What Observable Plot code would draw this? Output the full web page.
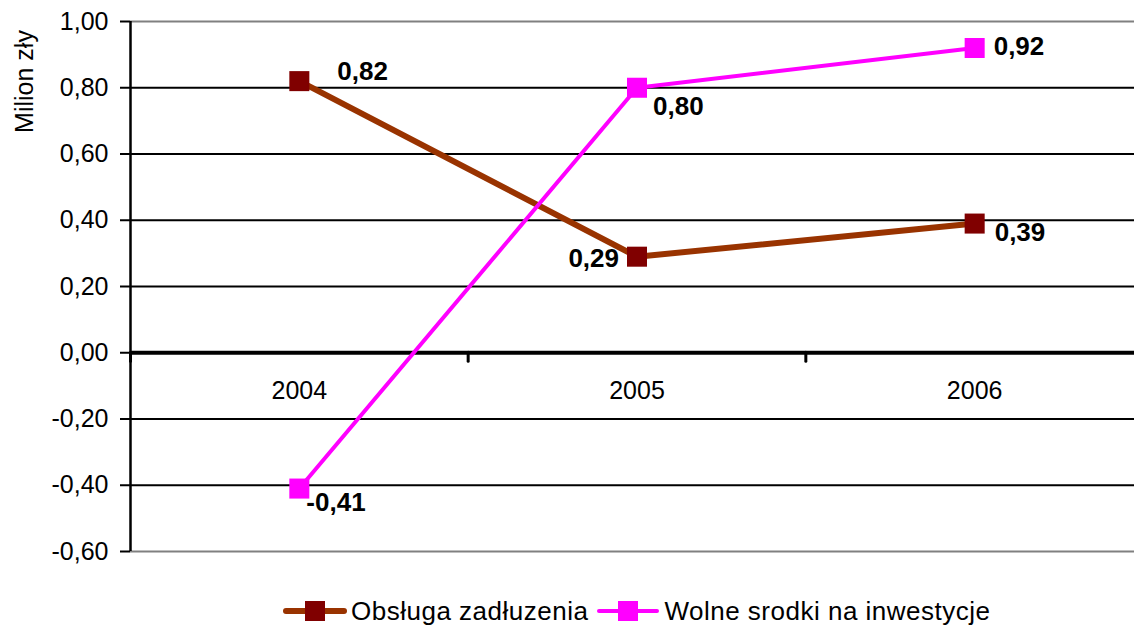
<!DOCTYPE html>
<html>
<head>
<meta charset="utf-8">
<script src="https://cdn.jsdelivr.net/npm/d3@7"></script>
<script src="https://cdn.jsdelivr.net/npm/@observablehq/plot@0.6"></script>
<style>
  html, body { margin: 0; padding: 0; background: #fff; }
  body { width: 1134px; height: 632px; overflow: hidden; font-family: Arial, "Liberation Sans", sans-serif; }
  #legend { display: flex; align-items: center; height: 42px; margin-left: 283px; font-size: 26px; letter-spacing: 0.5px; color: #000; }
  .item { display: flex; align-items: center; margin-right: 8px; white-space: nowrap; }
  .item svg { margin-right: 4px; }
</style>
</head>
<body>
<div id="chart"></div>
<div id="legend"></div>
<script>
// ---- data ----
const years = ["2004", "2005", "2006"];
const debtService = [0.82, 0.29, 0.39];          // Obsługa zadłuzenia
const freeFunds = [-0.41, 0.80, 0.92];           // Wolne srodki na inwestycje
const yTicks = [-0.6, -0.4, -0.2, 0, 0.2, 0.4, 0.6, 0.8, 1.0];
const seriesNames = ["Obsługa zadłuzenia", "Wolne srodki na inwestycje"];
const yTitle = "Milion zły";

// ---- styles ----
const brownLine = "#993300", brownMarker = "#800000", magenta = "#FF00FF";
const fmt = v => v.toFixed(2).replace(".", ",");

const rows = years.map((year, i) => ({year, i, debt: debtService[i], free: freeFunds[i]}));
const xPos = d => d.i + 0.5;

function valueLabel(key, idx, dx, dy, anchor) {
  return Plot.text(rows.filter(d => d.i === idx), {
    x: xPos, y: key, text: d => fmt(d[key]),
    dx, dy, textAnchor: anchor, fontWeight: "bold", fontSize: 26, fill: "#000"
  });
}

const chart = Plot.plot({
  width: 1134,
  height: 590,
  marginLeft: 130,
  marginRight: 0,
  marginTop: 21,
  marginBottom: 39,
  style: {fontFamily: 'Arial, "Liberation Sans", sans-serif', fontSize: "25px", color: "#000", background: "#fff"},
  x: {domain: [0, 3], range: [130, 1143], axis: null},
  y: {domain: [-0.6, 1.0], range: [551, 21], axis: null},
  marks: [
    // gridlines
    Plot.ruleY(yTicks.filter(v => v > -0.6 && v < 1.0 && v !== 0), {stroke: "#000", strokeWidth: 2}),
    Plot.ruleY(yTicks.filter(v => v === -0.6 || v === 1.0), {stroke: "#808080", strokeWidth: 2}),
    // y axis ticks & labels
    Plot.axisY(yTicks, {tickSize: 10, tickPadding: 12, tickFormat: fmt, strokeWidth: 2, fontSize: 25}),
    // left axis line
    Plot.ruleX([0], {stroke: "#000", strokeWidth: 2.5}),
    // zero line
    Plot.ruleY([0], {stroke: "#000", strokeWidth: 4}),
    // category boundary ticks on zero line
    Plot.ruleX([0, 1, 2], {y1: () => 0, y2: () => 0, insetBottom: -9, stroke: "#000", strokeWidth: 3, strokeLinecap: "round"}),
    // category labels
    Plot.text(rows, {x: xPos, y: () => 0, dy: 38, text: "year", fontSize: 25, fill: "#000"}),
    // y title
    Plot.text([yTitle], {frameAnchor: "top-left", textAnchor: "middle", lineAnchor: "middle", dx: -106, dy: 60, rotate: -90, fontSize: 25, fill: "#000"}),
    // series
    Plot.line(rows, {x: xPos, y: "debt", stroke: brownLine, strokeWidth: 6}),
    Plot.line(rows, {x: xPos, y: "free", stroke: magenta, strokeWidth: 4}),
    Plot.dot(rows, {x: xPos, y: "debt", symbol: "square", r: 11.3, fill: brownMarker, stroke: "none"}),
    Plot.dot(rows, {x: xPos, y: "free", symbol: "square", r: 11.3, fill: magenta, stroke: "none"}),
    // value labels
    valueLabel("debt", 0, 38, -9, "start"),
    valueLabel("debt", 1, -18, 2, "end"),
    valueLabel("debt", 2, 20, 9, "start"),
    valueLabel("free", 0, 7, 14, "start"),
    valueLabel("free", 1, 16, 19, "start"),
    valueLabel("free", 2, 19, -1, "start")
  ]
});
document.getElementById("chart").appendChild(chart);

// ---- legend ----
const legendStyles = [
  {line: brownLine, lw: 6, marker: brownMarker},
  {line: magenta, lw: 4, marker: magenta}
];
const legend = document.getElementById("legend");
seriesNames.forEach((name, k) => {
  const s = legendStyles[k];
  const item = document.createElement("div");
  item.className = "item";
  item.innerHTML = `<svg width="64" height="22"><line x1="3" y1="11" x2="61" y2="11" stroke="${s.line}" stroke-width="${s.lw}" stroke-linecap="round"/><rect x="22" y="1" width="20" height="20" fill="${s.marker}"/></svg><span>${name}</span>`;
  legend.appendChild(item);
});
</script>
</body>
</html>
